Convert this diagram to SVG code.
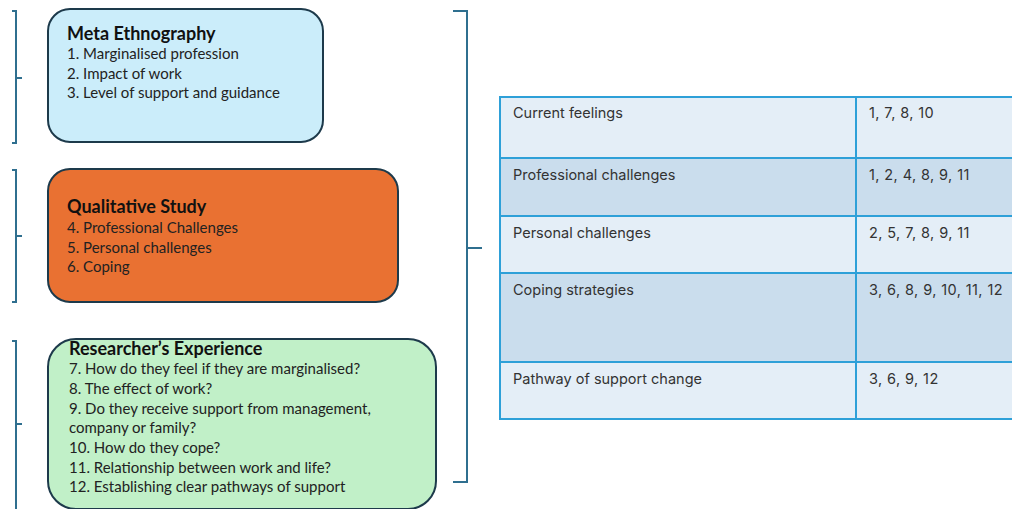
<svg xmlns="http://www.w3.org/2000/svg" width="1012" height="509" viewBox="0 0 1012 509">
<style>
  .box { stroke: #1d3a4b; stroke-width: 2; }
  .brk { fill: none; stroke: #2f6f8f; stroke-width: 2; }
  .ttl { font-family: Lato, "Liberation Sans", sans-serif; font-weight: bold; font-size: 18px; fill: #111; }
  .itm { font-family: Lato, "Liberation Sans", sans-serif; font-size: 15px; fill: #222; }
  .cell { stroke: #2ea0d8; stroke-width: 2; }
  .ctx { font-family: Inter, "Liberation Sans", sans-serif; font-size: 14.5px; fill: #333; }
  .num { letter-spacing: 0.4px; }
</style>
<rect width="1012" height="509" fill="#ffffff"/>

<!-- connectors: brackets grouping each source and the whole set -->
<g id="connectors">
  <path class="brk" d="M12 11 H16 V143 H12 M16 78 H22"/>
  <path class="brk" d="M12 170 H16 V302 H12 M16 236 H22"/>
  <path class="brk" d="M12 341 H16 V509 M16 424 H22"/>
  <path class="brk" d="M453 11 H467 V482 H453 M467 248 H482"/>
</g>

<g id="meta-ethnography">
  <rect class="box" x="48" y="9" width="275" height="133" rx="22" fill="#cbedfa"/>
  <text class="ttl" x="67" y="40">Meta Ethnography</text>
  <text class="itm" x="67" y="59">1. Marginalised profession</text>
  <text class="itm" x="67" y="79">2. Impact of work</text>
  <text class="itm" x="67" y="98">3. Level of support and guidance</text>
</g>

<g id="qualitative-study">
  <rect class="box" x="48" y="169" width="350" height="133" rx="22" fill="#e97132"/>
  <text class="ttl" x="67" y="213">Qualitative Study</text>
  <text class="itm" x="67" y="233">4. Professional Challenges</text>
  <text class="itm" x="67" y="253">5. Personal challenges</text>
  <text class="itm" x="67" y="272">6. Coping</text>
</g>

<g id="researchers-experience">
  <rect class="box" x="48" y="339" width="388" height="170" rx="28" fill="#c1f0c8"/>
  <text class="ttl" x="69" y="355">Researcher’s Experience</text>
  <text class="itm" x="69" y="374">7. How do they feel if they are marginalised?</text>
  <text class="itm" x="69" y="394">8. The effect of work?</text>
  <text class="itm" x="69" y="414">9. Do they receive support from management,</text>
  <text class="itm" x="69" y="433">company or family?</text>
  <text class="itm" x="69" y="453">10. How do they cope?</text>
  <text class="itm" x="69" y="473">11. Relationship between work and life?</text>
  <text class="itm" x="69" y="492">12. Establishing clear pathways of support</text>
</g>

<g id="themes-table">
  <rect class="cell" x="500" y="97" width="356" height="61" fill="#e4eef7"/>
  <rect class="cell" x="856" y="97" width="160" height="61" fill="#e4eef7"/>
  <rect class="cell" x="500" y="158" width="356" height="58" fill="#cadded"/>
  <rect class="cell" x="856" y="158" width="160" height="58" fill="#cadded"/>
  <rect class="cell" x="500" y="216" width="356" height="57" fill="#e4eef7"/>
  <rect class="cell" x="856" y="216" width="160" height="57" fill="#e4eef7"/>
  <rect class="cell" x="500" y="273" width="356" height="89" fill="#cadded"/>
  <rect class="cell" x="856" y="273" width="160" height="89" fill="#cadded"/>
  <rect class="cell" x="500" y="362" width="356" height="57" fill="#e4eef7"/>
  <rect class="cell" x="856" y="362" width="160" height="57" fill="#e4eef7"/>
  <text class="ctx" x="513" y="118">Current feelings</text>
  <text class="ctx num" x="869" y="118">1, 7, 8, 10</text>
  <text class="ctx" x="513" y="180">Professional challenges</text>
  <text class="ctx num" x="869" y="180">1, 2, 4, 8, 9, 11</text>
  <text class="ctx" x="513" y="238">Personal challenges</text>
  <text class="ctx num" x="869" y="238">2, 5, 7, 8, 9, 11</text>
  <text class="ctx" x="513" y="295">Coping strategies</text>
  <text class="ctx num" x="869" y="295">3, 6, 8, 9, 10, 11, 12</text>
  <text class="ctx" x="513" y="384">Pathway of support change</text>
  <text class="ctx num" x="869" y="384">3, 6, 9, 12</text>
</g>
</svg>
